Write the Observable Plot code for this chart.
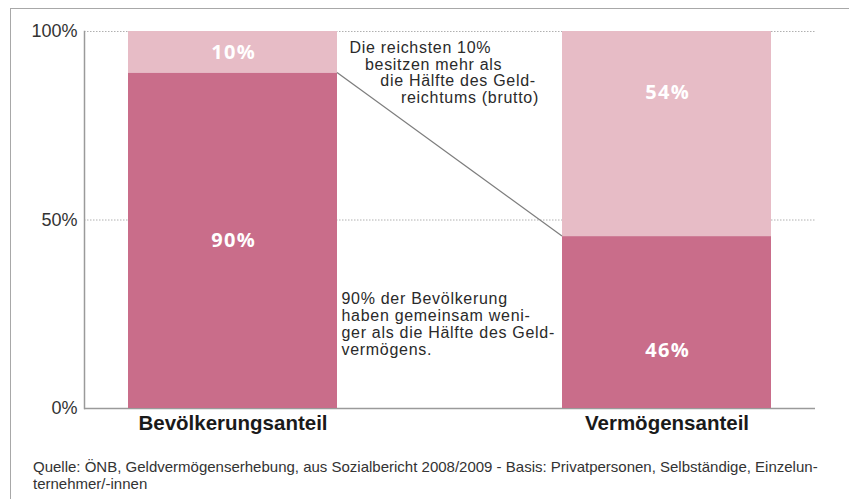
<!DOCTYPE html>
<html>
<head>
<meta charset="utf-8">
<script src="https://cdn.jsdelivr.net/npm/d3@7"></script>
<script src="https://cdn.jsdelivr.net/npm/@observablehq/plot@0.6"></script>
<style>
  html, body { margin: 0; padding: 0; background: #fff; width: 849px; height: 499px; overflow: hidden; }
  #wrap { position: relative; width: 849px; height: 499px; }
  #frame { position: absolute; left: 10px; top: 8px; right: -10px; bottom: -10px;
           border-top: 1.5px solid #a8a8a8; border-left: 1.5px solid #a8a8a8; pointer-events: none; z-index: 2; }
  #chart { position: absolute; left: 0; top: 0; }
  #caption { position: absolute; left: 33px; top: 459px; font-family: "Liberation Sans", Arial, sans-serif;
             font-size: 15px; line-height: 16.5px; color: #333; white-space: nowrap; }
  #chart svg g[font-size="16"] text { letter-spacing: 0.7px; }
  #chart svg g[font-size="20"] text { letter-spacing: 1.3px; }
</style>
</head>
<body>
<div id="wrap">
  <div id="chart"></div>
  <div id="frame"></div>
  <div id="caption">Quelle: ÖNB, Geldvermögenserhebung, aus Sozialbericht 2008/2009 - Basis: Privatpersonen, Selbständige, Einzelun-<br>ternehmer/-innen</div>
</div>
<script>
// ---- data ----
const categories = ["Bevölkerungsanteil", "Vermögensanteil"];
const lowerShare = [89, 45.6];      // dark segment (bottom)
const upperShare = [11, 54.4];      // light segment (top)
const lowerLabels = ["90%", "46%"];
const upperLabels = ["10%", "54%"];
const yTicks = [0, 50, 100];
const gridTicks = [50, 100];

const annotationTop = ["Die reichsten 10%", "besitzen mehr als", "die Hälfte des Geld-", "reichtums (brutto)"];
const annotationBottom = ["90% der Bevölkerung", "haben gemeinsam weni-", "ger als die Hälfte des Geld-", "vermögens."];

// ---- layout constants ----
const darkColor = "#c96d8a";
const lightColor = "#e7bcc6";
const lowerLabelY = [44.6, 15.4];
const upperLabelY = [94.4, 83.8];
const annIndent = [0, 3, 6, 10];          // indentation of top annotation lines (in spaces)
const mL = 84, mT = 31;

const rows = [];
categories.forEach((c, i) => {
  rows.push({cat: c, part: "lower", value: lowerShare[i], label: lowerLabels[i], ly: lowerLabelY[i]});
  rows.push({cat: c, part: "upper", value: upperShare[i], label: upperLabels[i], ly: upperLabelY[i]});
});

function connector(index, scales) {
  const x = scales.x, y = scales.y;
  const bw = x.bandwidth ? x.bandwidth() : 0;
  return d3.create("svg:line")
    .attr("x1", x(categories[0]) + bw)
    .attr("y1", y(lowerShare[0]))
    .attr("x2", x(categories[1]))
    .attr("y2", y(lowerShare[1]))
    .attr("stroke", "#7d7d7d")
    .attr("stroke-width", 1.2)
    .node();
}

const topText = annotationTop.map((t, i) => "\u00A0".repeat(annIndent[i]) + t).join("\n");
const botText = annotationBottom.join("\n");
const textFont = "Liberation Sans, Arial, sans-serif";

const plot = Plot.plot({
  width: 849,
  height: 445,
  marginLeft: mL,
  marginRight: 34,
  marginTop: mT,
  marginBottom: 37,
  style: {fontFamily: textFont, background: "transparent", overflow: "visible"},
  x: {domain: categories, paddingInner: 0.518, paddingOuter: 0.101, label: null},
  y: {domain: [0, 100], label: null},
  marks: [
    Plot.ruleY(gridTicks, {stroke: "#b0b0b0", strokeDasharray: "1.5,1.5", strokeWidth: 1}),
    Plot.ruleY([0], {stroke: "#9a9a9a", strokeWidth: 1.5}),
    Plot.frame({anchor: "left", stroke: "#9a9a9a", strokeWidth: 1.5}),
    Plot.barY(rows, {x: "cat", y: "value", fill: d => d.part === "lower" ? darkColor : lightColor}),
    Plot.text(rows, {x: "cat", y: "ly", text: "label", fill: "white", fontWeight: "bold", fontSize: 20,
      fontFamily: "Open Sans, Lato, sans-serif", dx: 0.6}),
    connector,
    Plot.text([topText], {text: d => d, frameAnchor: "top-left", textAnchor: "start", lineAnchor: "bottom",
      lineHeight: 1.045, dx: 349 - mL, dy: 102.7 - mT, fontSize: 16, fill: "#2a2a2a"}),
    Plot.text([botText], {text: d => d, frameAnchor: "top-left", textAnchor: "start", lineAnchor: "bottom",
      lineHeight: 1.0625, dx: 341 - mL, dy: 354.3 - mT, fontSize: 16, fill: "#2a2a2a"}),
    Plot.axisY({ticks: yTicks, tickFormat: d => d + "%", tickSize: 0, tickPadding: 7, fontSize: 18, color: "#333", label: null}),
    Plot.axisX({tickSize: 0, tickPadding: 7, fontSize: 20.5, fontWeight: "bold", color: "#1a1a1a", label: null})
  ]
});
document.getElementById("chart").appendChild(plot);
</script>
</body>
</html>
